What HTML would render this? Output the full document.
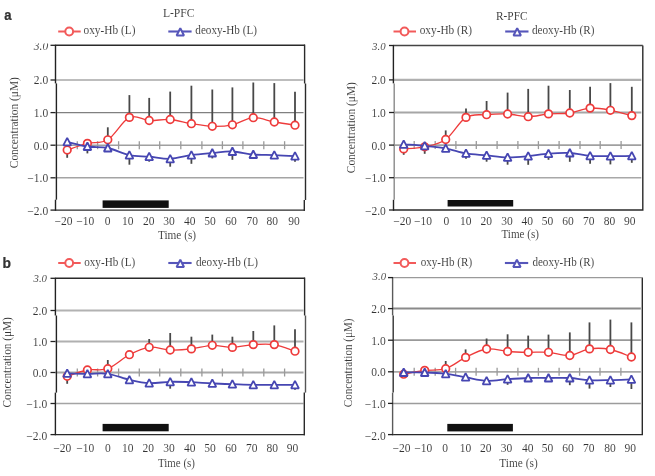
<!DOCTYPE html><html><head><meta charset="utf-8"><style>html,body{margin:0;padding:0;background:#fff;width:655px;height:476px;overflow:hidden}svg{display:block;filter:blur(0.5px)}text{font-family:"Liberation Serif",serif;fill:#333;stroke:#fff;stroke-width:0.08px}.s{font-family:"Liberation Sans",sans-serif;font-weight:bold;stroke:#1a1a1a;stroke-width:0.2px}</style></head><body>
<svg width="655" height="476" viewBox="0 0 655 476">
<defs><clipPath id="c3" clipPathUnits="userSpaceOnUse"><rect x="0" y="43.6" width="100" height="20"/></clipPath></defs>
<line x1="55.5" y1="80.0" x2="303.5" y2="80.0" stroke="#bdbdbd" stroke-width="2.2"/>
<line x1="55.5" y1="112.6" x2="303.5" y2="112.6" stroke="#808080" stroke-width="1.4"/>
<line x1="55.5" y1="145.2" x2="303.5" y2="145.2" stroke="#a0a0a0" stroke-width="1.6"/>
<line x1="55.5" y1="177.8" x2="303.5" y2="177.8" stroke="#a4a4a4" stroke-width="1.5"/>
<line x1="77.3" y1="141.2" x2="77.3" y2="149.2" stroke="#9a9a9a" stroke-width="1.3"/>
<line x1="97.6" y1="141.2" x2="97.6" y2="149.2" stroke="#9a9a9a" stroke-width="1.3"/>
<line x1="118.6" y1="141.2" x2="118.6" y2="149.2" stroke="#9a9a9a" stroke-width="1.3"/>
<line x1="139.3" y1="141.2" x2="139.3" y2="149.2" stroke="#9a9a9a" stroke-width="1.3"/>
<line x1="159.7" y1="141.2" x2="159.7" y2="149.2" stroke="#9a9a9a" stroke-width="1.3"/>
<line x1="180.8" y1="141.2" x2="180.8" y2="149.2" stroke="#9a9a9a" stroke-width="1.3"/>
<line x1="201.9" y1="141.2" x2="201.9" y2="149.2" stroke="#9a9a9a" stroke-width="1.3"/>
<line x1="222.4" y1="141.2" x2="222.4" y2="149.2" stroke="#9a9a9a" stroke-width="1.3"/>
<line x1="242.9" y1="141.2" x2="242.9" y2="149.2" stroke="#9a9a9a" stroke-width="1.3"/>
<line x1="263.8" y1="141.2" x2="263.8" y2="149.2" stroke="#9a9a9a" stroke-width="1.3"/>
<line x1="284.6" y1="141.2" x2="284.6" y2="149.2" stroke="#9a9a9a" stroke-width="1.3"/>
<path d="M55.5 210.1H305" fill="none" stroke="#2a2a2a" stroke-width="1.4"/>
<line x1="304.6" y1="44.6" x2="304.6" y2="83.5" stroke="#2a2a2a" stroke-width="1.4"/>
<line x1="305.5" y1="83.5" x2="305.5" y2="200.0" stroke="#2a2a2a" stroke-width="1.4"/>
<line x1="304.3" y1="200.0" x2="304.3" y2="210.8" stroke="#2a2a2a" stroke-width="1.4"/>
<path d="M54.9 45.3H305" fill="none" stroke="#2a2a2a" stroke-width="1.4"/>
<line x1="55.5" y1="45.3" x2="55.5" y2="83.4" stroke="#222" stroke-width="1.4"/>
<line x1="56.4" y1="83.4" x2="56.4" y2="199.7" stroke="#222" stroke-width="1.4"/>
<line x1="55.5" y1="199.7" x2="55.5" y2="210.8" stroke="#222" stroke-width="1.4"/>
<line x1="50.5" y1="45.3" x2="55.5" y2="45.3" stroke="#222" stroke-width="1.3"/>
<line x1="50.5" y1="80.0" x2="55.5" y2="80.0" stroke="#222" stroke-width="1.3"/>
<line x1="50.5" y1="112.6" x2="55.5" y2="112.6" stroke="#222" stroke-width="1.3"/>
<line x1="50.5" y1="145.2" x2="55.5" y2="145.2" stroke="#222" stroke-width="1.3"/>
<line x1="50.5" y1="177.8" x2="55.5" y2="177.8" stroke="#222" stroke-width="1.3"/>
<line x1="50.5" y1="210.1" x2="55.5" y2="210.1" stroke="#222" stroke-width="1.3"/>
<rect x="102.6" y="200.4" width="66.1" height="7.5" fill="#111"/>
<line x1="67.2" y1="150.0" x2="67.2" y2="157.8" stroke="#484848" stroke-width="1.8"/>
<line x1="87.4" y1="146.5" x2="87.4" y2="153.4" stroke="#484848" stroke-width="1.8"/>
<line x1="107.8" y1="127.3" x2="107.8" y2="139.8" stroke="#484848" stroke-width="1.8"/>
<line x1="129.4" y1="95.1" x2="129.4" y2="117.4" stroke="#484848" stroke-width="1.8"/>
<line x1="129.4" y1="155.2" x2="129.4" y2="164.7" stroke="#484848" stroke-width="1.8"/>
<line x1="149.2" y1="97.9" x2="149.2" y2="120.5" stroke="#484848" stroke-width="1.8"/>
<line x1="149.2" y1="156.7" x2="149.2" y2="161.7" stroke="#484848" stroke-width="1.8"/>
<line x1="170.2" y1="91.6" x2="170.2" y2="119.5" stroke="#484848" stroke-width="1.8"/>
<line x1="170.2" y1="158.8" x2="170.2" y2="166.7" stroke="#484848" stroke-width="1.8"/>
<line x1="191.4" y1="85.7" x2="191.4" y2="123.7" stroke="#484848" stroke-width="1.8"/>
<line x1="191.4" y1="155.1" x2="191.4" y2="163.8" stroke="#484848" stroke-width="1.8"/>
<line x1="212.3" y1="89.5" x2="212.3" y2="126.3" stroke="#484848" stroke-width="1.8"/>
<line x1="212.3" y1="153" x2="212.3" y2="158.4" stroke="#484848" stroke-width="1.8"/>
<line x1="232.4" y1="87.4" x2="232.4" y2="124.8" stroke="#484848" stroke-width="1.8"/>
<line x1="232.4" y1="151.5" x2="232.4" y2="159.8" stroke="#484848" stroke-width="1.8"/>
<line x1="253.3" y1="82.5" x2="253.3" y2="117.7" stroke="#484848" stroke-width="1.8"/>
<line x1="253.3" y1="154.5" x2="253.3" y2="157.8" stroke="#484848" stroke-width="1.8"/>
<line x1="274.3" y1="83.1" x2="274.3" y2="122" stroke="#484848" stroke-width="1.8"/>
<line x1="295.0" y1="91.7" x2="295.0" y2="125.2" stroke="#484848" stroke-width="1.8"/>
<line x1="295.0" y1="156.2" x2="295.0" y2="161.8" stroke="#484848" stroke-width="1.8"/>
<path d="M67.2,150.0C70.6,148.9 80.6,145.1 87.4,143.4C94.2,141.7 100.8,144.1 107.8,139.8C114.8,135.5 122.5,120.6 129.4,117.4C136.3,114.2 142.4,120.2 149.2,120.5C156.0,120.8 163.2,119.0 170.2,119.5C177.2,120.0 184.4,122.6 191.4,123.7C198.4,124.8 205.5,126.1 212.3,126.3C219.1,126.5 225.6,126.2 232.4,124.8C239.2,123.4 246.3,118.2 253.3,117.7C260.3,117.2 267.4,120.8 274.3,122C281.2,123.2 291.6,124.7 295.0,125.2" fill="none" stroke="#ee3b3b" stroke-width="1.3"/>
<circle cx="67.2" cy="150.0" r="3.8" fill="#fff" stroke="#ee3b3b" stroke-width="1.7"/>
<circle cx="87.4" cy="143.4" r="3.8" fill="#fff" stroke="#ee3b3b" stroke-width="1.7"/>
<circle cx="107.8" cy="139.8" r="3.8" fill="#fff" stroke="#ee3b3b" stroke-width="1.7"/>
<circle cx="129.4" cy="117.4" r="3.8" fill="#fff" stroke="#ee3b3b" stroke-width="1.7"/>
<circle cx="149.2" cy="120.5" r="3.8" fill="#fff" stroke="#ee3b3b" stroke-width="1.7"/>
<circle cx="170.2" cy="119.5" r="3.8" fill="#fff" stroke="#ee3b3b" stroke-width="1.7"/>
<circle cx="191.4" cy="123.7" r="3.8" fill="#fff" stroke="#ee3b3b" stroke-width="1.7"/>
<circle cx="212.3" cy="126.3" r="3.8" fill="#fff" stroke="#ee3b3b" stroke-width="1.7"/>
<circle cx="232.4" cy="124.8" r="3.8" fill="#fff" stroke="#ee3b3b" stroke-width="1.7"/>
<circle cx="253.3" cy="117.7" r="3.8" fill="#fff" stroke="#ee3b3b" stroke-width="1.7"/>
<circle cx="274.3" cy="122" r="3.8" fill="#fff" stroke="#ee3b3b" stroke-width="1.7"/>
<circle cx="295.0" cy="125.2" r="3.8" fill="#fff" stroke="#ee3b3b" stroke-width="1.7"/>
<path d="M67.2,141.8C70.6,142.6 80.6,145.5 87.4,146.5C94.2,147.5 100.8,146.6 107.8,148.0C114.8,149.4 122.5,153.8 129.4,155.2C136.3,156.6 142.4,156.1 149.2,156.7C156.0,157.3 163.2,159.1 170.2,158.8C177.2,158.5 184.4,156.1 191.4,155.1C198.4,154.1 205.5,153.6 212.3,153C219.1,152.4 225.6,151.2 232.4,151.5C239.2,151.8 246.3,153.9 253.3,154.5C260.3,155.1 267.4,154.8 274.3,155.1C281.2,155.4 291.6,156.0 295.0,156.2" fill="none" stroke="#4646b2" stroke-width="1.8"/>
<path d="M67.2 137.8L71.1 145.3H63.3Z" fill="#fff" stroke="#4646b2" stroke-width="1.8" stroke-linejoin="bevel"/>
<path d="M87.4 142.5L91.3 150.0H83.5Z" fill="#fff" stroke="#4646b2" stroke-width="1.8" stroke-linejoin="bevel"/>
<path d="M107.8 144.0L111.7 151.5H103.9Z" fill="#fff" stroke="#4646b2" stroke-width="1.8" stroke-linejoin="bevel"/>
<path d="M129.4 151.2L133.3 158.7H125.5Z" fill="#fff" stroke="#4646b2" stroke-width="1.8" stroke-linejoin="bevel"/>
<path d="M149.2 152.7L153.1 160.2H145.3Z" fill="#fff" stroke="#4646b2" stroke-width="1.8" stroke-linejoin="bevel"/>
<path d="M170.2 154.8L174.1 162.3H166.3Z" fill="#fff" stroke="#4646b2" stroke-width="1.8" stroke-linejoin="bevel"/>
<path d="M191.4 151.1L195.3 158.6H187.5Z" fill="#fff" stroke="#4646b2" stroke-width="1.8" stroke-linejoin="bevel"/>
<path d="M212.3 149.0L216.2 156.5H208.4Z" fill="#fff" stroke="#4646b2" stroke-width="1.8" stroke-linejoin="bevel"/>
<path d="M232.4 147.5L236.3 155.0H228.5Z" fill="#fff" stroke="#4646b2" stroke-width="1.8" stroke-linejoin="bevel"/>
<path d="M253.3 150.5L257.2 158.0H249.4Z" fill="#fff" stroke="#4646b2" stroke-width="1.8" stroke-linejoin="bevel"/>
<path d="M274.3 151.1L278.2 158.6H270.4Z" fill="#fff" stroke="#4646b2" stroke-width="1.8" stroke-linejoin="bevel"/>
<path d="M295.0 152.2L298.9 159.7H291.1Z" fill="#fff" stroke="#4646b2" stroke-width="1.8" stroke-linejoin="bevel"/>
<line x1="58.2" y1="31.5" x2="80.7" y2="31.5" stroke="#f25a5a" stroke-width="2"/>
<circle cx="69.2" cy="31.5" r="3.9" fill="#fff" stroke="#f25a5a" stroke-width="2"/>
<line x1="168.3" y1="31.5" x2="191.60000000000002" y2="31.5" stroke="#5656ba" stroke-width="2.1"/>
<path d="M180.3 28.3L184.0 35.5H176.6Z" fill="#fff" stroke="#5656ba" stroke-width="2" stroke-linejoin="bevel"/>
<line x1="394" y1="79.9" x2="641.3" y2="79.9" stroke="#b0b0b0" stroke-width="2.2"/>
<line x1="394" y1="112.5" x2="641.3" y2="112.5" stroke="#a6a6a6" stroke-width="2.0"/>
<line x1="394" y1="145.1" x2="641.3" y2="145.1" stroke="#a0a0a0" stroke-width="1.6"/>
<line x1="394" y1="177.7" x2="641.3" y2="177.7" stroke="#a8a8a8" stroke-width="1.5"/>
<line x1="414.2" y1="141.1" x2="414.2" y2="149.1" stroke="#9a9a9a" stroke-width="1.3"/>
<line x1="435.2" y1="141.1" x2="435.2" y2="149.1" stroke="#9a9a9a" stroke-width="1.3"/>
<line x1="455.9" y1="141.1" x2="455.9" y2="149.1" stroke="#9a9a9a" stroke-width="1.3"/>
<line x1="476.3" y1="141.1" x2="476.3" y2="149.1" stroke="#9a9a9a" stroke-width="1.3"/>
<line x1="497.1" y1="141.1" x2="497.1" y2="149.1" stroke="#9a9a9a" stroke-width="1.3"/>
<line x1="517.9" y1="141.1" x2="517.9" y2="149.1" stroke="#9a9a9a" stroke-width="1.3"/>
<line x1="538.4" y1="141.1" x2="538.4" y2="149.1" stroke="#9a9a9a" stroke-width="1.3"/>
<line x1="559.1" y1="141.1" x2="559.1" y2="149.1" stroke="#9a9a9a" stroke-width="1.3"/>
<line x1="580.0" y1="141.1" x2="580.0" y2="149.1" stroke="#9a9a9a" stroke-width="1.3"/>
<line x1="600.2" y1="141.1" x2="600.2" y2="149.1" stroke="#9a9a9a" stroke-width="1.3"/>
<line x1="621.1" y1="141.1" x2="621.1" y2="149.1" stroke="#9a9a9a" stroke-width="1.3"/>
<path d="M394 210H642.8V45.5" fill="none" stroke="#2a2a2a" stroke-width="1.4"/>
<path d="M393.4 45.5H642.8" fill="none" stroke="#444" stroke-width="1.4"/>
<line x1="393.4" y1="45.8" x2="393.4" y2="83.4" stroke="#222" stroke-width="1.4"/>
<line x1="394.2" y1="83.4" x2="394.2" y2="199.8" stroke="#8a8a8a" stroke-width="1.4"/>
<line x1="393.5" y1="199.8" x2="393.5" y2="210.8" stroke="#222" stroke-width="1.4"/>
<line x1="389" y1="45.5" x2="394" y2="45.5" stroke="#222" stroke-width="1.3"/>
<line x1="389" y1="79.9" x2="394" y2="79.9" stroke="#222" stroke-width="1.3"/>
<line x1="389" y1="112.5" x2="394" y2="112.5" stroke="#222" stroke-width="1.3"/>
<line x1="389" y1="145.1" x2="394" y2="145.1" stroke="#222" stroke-width="1.3"/>
<line x1="389" y1="177.7" x2="394" y2="177.7" stroke="#222" stroke-width="1.3"/>
<line x1="389" y1="210.0" x2="394" y2="210.0" stroke="#222" stroke-width="1.3"/>
<rect x="447.6" y="200" width="65.6" height="6.5" fill="#111"/>
<line x1="403.7" y1="144.3" x2="403.7" y2="154.8" stroke="#484848" stroke-width="1.8"/>
<line x1="424.7" y1="145.9" x2="424.7" y2="153.8" stroke="#484848" stroke-width="1.8"/>
<line x1="445.7" y1="130.4" x2="445.7" y2="139.5" stroke="#484848" stroke-width="1.8"/>
<line x1="466" y1="108.4" x2="466" y2="117.4" stroke="#484848" stroke-width="1.8"/>
<line x1="466" y1="153.4" x2="466" y2="158.8" stroke="#484848" stroke-width="1.8"/>
<line x1="486.6" y1="101" x2="486.6" y2="114.7" stroke="#484848" stroke-width="1.8"/>
<line x1="486.6" y1="155.4" x2="486.6" y2="161.7" stroke="#484848" stroke-width="1.8"/>
<line x1="507.6" y1="92.6" x2="507.6" y2="114" stroke="#484848" stroke-width="1.8"/>
<line x1="507.6" y1="157.4" x2="507.6" y2="164.7" stroke="#484848" stroke-width="1.8"/>
<line x1="528.2" y1="88.9" x2="528.2" y2="116.7" stroke="#484848" stroke-width="1.8"/>
<line x1="528.2" y1="156.2" x2="528.2" y2="164.8" stroke="#484848" stroke-width="1.8"/>
<line x1="548.5" y1="85.7" x2="548.5" y2="113.9" stroke="#484848" stroke-width="1.8"/>
<line x1="548.5" y1="153.6" x2="548.5" y2="159.8" stroke="#484848" stroke-width="1.8"/>
<line x1="569.8" y1="90" x2="569.8" y2="113" stroke="#484848" stroke-width="1.8"/>
<line x1="569.8" y1="153" x2="569.8" y2="161.8" stroke="#484848" stroke-width="1.8"/>
<line x1="590.1" y1="86.8" x2="590.1" y2="108.1" stroke="#484848" stroke-width="1.8"/>
<line x1="590.1" y1="155.8" x2="590.1" y2="163.8" stroke="#484848" stroke-width="1.8"/>
<line x1="610.4" y1="83.1" x2="610.4" y2="110.3" stroke="#484848" stroke-width="1.8"/>
<line x1="610.4" y1="156.2" x2="610.4" y2="164.4" stroke="#484848" stroke-width="1.8"/>
<line x1="631.8" y1="86.8" x2="631.8" y2="115.6" stroke="#484848" stroke-width="1.8"/>
<line x1="631.8" y1="155.8" x2="631.8" y2="162.8" stroke="#484848" stroke-width="1.8"/>
<path d="M403.7,148.9C407.2,148.6 417.7,148.4 424.7,146.8C431.7,145.2 438.8,144.4 445.7,139.5C452.6,134.6 459.2,121.5 466,117.4C472.8,113.3 479.7,115.3 486.6,114.7C493.5,114.1 500.7,113.7 507.6,114C514.5,114.3 521.4,116.7 528.2,116.7C535.0,116.7 541.6,114.5 548.5,113.9C555.4,113.3 562.9,114.0 569.8,113C576.7,112.0 583.3,108.5 590.1,108.1C596.9,107.6 603.5,109.0 610.4,110.3C617.3,111.5 628.2,114.7 631.8,115.6" fill="none" stroke="#ee3b3b" stroke-width="1.3"/>
<circle cx="403.7" cy="148.9" r="3.8" fill="#fff" stroke="#ee3b3b" stroke-width="1.7"/>
<circle cx="424.7" cy="146.8" r="3.8" fill="#fff" stroke="#ee3b3b" stroke-width="1.7"/>
<circle cx="445.7" cy="139.5" r="3.8" fill="#fff" stroke="#ee3b3b" stroke-width="1.7"/>
<circle cx="466" cy="117.4" r="3.8" fill="#fff" stroke="#ee3b3b" stroke-width="1.7"/>
<circle cx="486.6" cy="114.7" r="3.8" fill="#fff" stroke="#ee3b3b" stroke-width="1.7"/>
<circle cx="507.6" cy="114" r="3.8" fill="#fff" stroke="#ee3b3b" stroke-width="1.7"/>
<circle cx="528.2" cy="116.7" r="3.8" fill="#fff" stroke="#ee3b3b" stroke-width="1.7"/>
<circle cx="548.5" cy="113.9" r="3.8" fill="#fff" stroke="#ee3b3b" stroke-width="1.7"/>
<circle cx="569.8" cy="113" r="3.8" fill="#fff" stroke="#ee3b3b" stroke-width="1.7"/>
<circle cx="590.1" cy="108.1" r="3.8" fill="#fff" stroke="#ee3b3b" stroke-width="1.7"/>
<circle cx="610.4" cy="110.3" r="3.8" fill="#fff" stroke="#ee3b3b" stroke-width="1.7"/>
<circle cx="631.8" cy="115.6" r="3.8" fill="#fff" stroke="#ee3b3b" stroke-width="1.7"/>
<path d="M403.7,144.3C407.2,144.6 417.7,145.2 424.7,145.9C431.7,146.6 438.8,147.1 445.7,148.3C452.6,149.6 459.2,152.2 466,153.4C472.8,154.6 479.7,154.7 486.6,155.4C493.5,156.1 500.7,157.3 507.6,157.4C514.5,157.5 521.4,156.8 528.2,156.2C535.0,155.6 541.6,154.1 548.5,153.6C555.4,153.1 562.9,152.6 569.8,153C576.7,153.4 583.3,155.3 590.1,155.8C596.9,156.3 603.5,156.2 610.4,156.2C617.3,156.2 628.2,155.9 631.8,155.8" fill="none" stroke="#4646b2" stroke-width="1.8"/>
<path d="M403.7 140.3L407.6 147.8H399.8Z" fill="#fff" stroke="#4646b2" stroke-width="1.8" stroke-linejoin="bevel"/>
<path d="M424.7 141.9L428.6 149.4H420.8Z" fill="#fff" stroke="#4646b2" stroke-width="1.8" stroke-linejoin="bevel"/>
<path d="M445.7 144.3L449.6 151.8H441.8Z" fill="#fff" stroke="#4646b2" stroke-width="1.8" stroke-linejoin="bevel"/>
<path d="M466 149.4L469.9 156.9H462.1Z" fill="#fff" stroke="#4646b2" stroke-width="1.8" stroke-linejoin="bevel"/>
<path d="M486.6 151.4L490.5 158.9H482.7Z" fill="#fff" stroke="#4646b2" stroke-width="1.8" stroke-linejoin="bevel"/>
<path d="M507.6 153.4L511.5 160.9H503.7Z" fill="#fff" stroke="#4646b2" stroke-width="1.8" stroke-linejoin="bevel"/>
<path d="M528.2 152.2L532.1 159.7H524.3Z" fill="#fff" stroke="#4646b2" stroke-width="1.8" stroke-linejoin="bevel"/>
<path d="M548.5 149.6L552.4 157.1H544.6Z" fill="#fff" stroke="#4646b2" stroke-width="1.8" stroke-linejoin="bevel"/>
<path d="M569.8 149.0L573.7 156.5H565.9Z" fill="#fff" stroke="#4646b2" stroke-width="1.8" stroke-linejoin="bevel"/>
<path d="M590.1 151.8L594.0 159.3H586.2Z" fill="#fff" stroke="#4646b2" stroke-width="1.8" stroke-linejoin="bevel"/>
<path d="M610.4 152.2L614.3 159.7H606.5Z" fill="#fff" stroke="#4646b2" stroke-width="1.8" stroke-linejoin="bevel"/>
<path d="M631.8 151.8L635.7 159.3H627.9Z" fill="#fff" stroke="#4646b2" stroke-width="1.8" stroke-linejoin="bevel"/>
<line x1="393.5" y1="31.5" x2="416" y2="31.5" stroke="#f25a5a" stroke-width="2"/>
<circle cx="404.5" cy="31.5" r="3.9" fill="#fff" stroke="#f25a5a" stroke-width="2"/>
<line x1="505.2" y1="31.5" x2="528.5" y2="31.5" stroke="#5656ba" stroke-width="2.1"/>
<path d="M517.2 28.3L520.9 35.5H513.5Z" fill="#fff" stroke="#5656ba" stroke-width="2" stroke-linejoin="bevel"/>
<line x1="55.5" y1="310.5" x2="303.5" y2="310.5" stroke="#b2b2b2" stroke-width="2.0"/>
<line x1="55.5" y1="341.5" x2="303.5" y2="341.5" stroke="#b0b0b0" stroke-width="2.0"/>
<line x1="55.5" y1="372.5" x2="303.5" y2="372.5" stroke="#a8a8a8" stroke-width="2.0"/>
<line x1="55.5" y1="403.5" x2="303.5" y2="403.5" stroke="#a4a4a4" stroke-width="1.5"/>
<line x1="77.3" y1="368.5" x2="77.3" y2="376.5" stroke="#9a9a9a" stroke-width="1.3"/>
<line x1="97.6" y1="368.5" x2="97.6" y2="376.5" stroke="#9a9a9a" stroke-width="1.3"/>
<line x1="118.6" y1="368.5" x2="118.6" y2="376.5" stroke="#9a9a9a" stroke-width="1.3"/>
<line x1="139.3" y1="368.5" x2="139.3" y2="376.5" stroke="#9a9a9a" stroke-width="1.3"/>
<line x1="159.7" y1="368.5" x2="159.7" y2="376.5" stroke="#9a9a9a" stroke-width="1.3"/>
<line x1="180.8" y1="368.5" x2="180.8" y2="376.5" stroke="#9a9a9a" stroke-width="1.3"/>
<line x1="201.9" y1="368.5" x2="201.9" y2="376.5" stroke="#9a9a9a" stroke-width="1.3"/>
<line x1="222.4" y1="368.5" x2="222.4" y2="376.5" stroke="#9a9a9a" stroke-width="1.3"/>
<line x1="242.9" y1="368.5" x2="242.9" y2="376.5" stroke="#9a9a9a" stroke-width="1.3"/>
<line x1="263.8" y1="368.5" x2="263.8" y2="376.5" stroke="#9a9a9a" stroke-width="1.3"/>
<line x1="284.6" y1="368.5" x2="284.6" y2="376.5" stroke="#9a9a9a" stroke-width="1.3"/>
<path d="M55.5 434.6H305" fill="none" stroke="#2a2a2a" stroke-width="1.4"/>
<line x1="304.6" y1="277.6" x2="304.6" y2="315.5" stroke="#2a2a2a" stroke-width="1.4"/>
<line x1="305.5" y1="315.5" x2="305.5" y2="392.6" stroke="#555" stroke-width="1.4"/>
<line x1="304.3" y1="392.6" x2="304.3" y2="435.3" stroke="#2a2a2a" stroke-width="1.4"/>
<path d="M54.9 278.3H305" fill="none" stroke="#2a2a2a" stroke-width="1.4"/>
<line x1="55.4" y1="278.5" x2="55.4" y2="315.5" stroke="#222" stroke-width="1.4"/>
<line x1="56.4" y1="315.5" x2="56.4" y2="392.6" stroke="#222" stroke-width="1.4"/>
<line x1="55.4" y1="392.6" x2="55.4" y2="435.3" stroke="#222" stroke-width="1.4"/>
<line x1="50.5" y1="278.3" x2="55.5" y2="278.3" stroke="#222" stroke-width="1.3"/>
<line x1="50.5" y1="310.5" x2="55.5" y2="310.5" stroke="#222" stroke-width="1.3"/>
<line x1="50.5" y1="341.5" x2="55.5" y2="341.5" stroke="#222" stroke-width="1.3"/>
<line x1="50.5" y1="372.5" x2="55.5" y2="372.5" stroke="#222" stroke-width="1.3"/>
<line x1="50.5" y1="403.5" x2="55.5" y2="403.5" stroke="#222" stroke-width="1.3"/>
<line x1="50.5" y1="434.6" x2="55.5" y2="434.6" stroke="#222" stroke-width="1.3"/>
<rect x="102.6" y="423.9" width="66.1" height="7.4" fill="#111"/>
<line x1="67.2" y1="373.3" x2="67.2" y2="383.8" stroke="#484848" stroke-width="1.8"/>
<line x1="107.8" y1="360" x2="107.8" y2="368.7" stroke="#484848" stroke-width="1.8"/>
<line x1="149.2" y1="339" x2="149.2" y2="347.3" stroke="#484848" stroke-width="1.8"/>
<line x1="170.2" y1="333" x2="170.2" y2="350" stroke="#484848" stroke-width="1.8"/>
<line x1="170.2" y1="381.8" x2="170.2" y2="388.7" stroke="#484848" stroke-width="1.8"/>
<line x1="191.4" y1="336.7" x2="191.4" y2="348.9" stroke="#484848" stroke-width="1.8"/>
<line x1="191.4" y1="382.2" x2="191.4" y2="386" stroke="#484848" stroke-width="1.8"/>
<line x1="212.3" y1="334.6" x2="212.3" y2="345.3" stroke="#484848" stroke-width="1.8"/>
<line x1="232.4" y1="336.7" x2="232.4" y2="347.4" stroke="#484848" stroke-width="1.8"/>
<line x1="232.4" y1="384.2" x2="232.4" y2="387" stroke="#484848" stroke-width="1.8"/>
<line x1="253.3" y1="331" x2="253.3" y2="344.6" stroke="#484848" stroke-width="1.8"/>
<line x1="274.3" y1="325.4" x2="274.3" y2="344.6" stroke="#484848" stroke-width="1.8"/>
<line x1="295.0" y1="329.2" x2="295.0" y2="351.2" stroke="#484848" stroke-width="1.8"/>
<line x1="295.0" y1="384.8" x2="295.0" y2="389.8" stroke="#484848" stroke-width="1.8"/>
<path d="M67.2,376.3C70.6,375.2 80.6,371.3 87.4,370C94.2,368.7 100.8,371.2 107.8,368.7C114.8,366.1 122.5,358.3 129.4,354.7C136.3,351.1 142.4,348.1 149.2,347.3C156.0,346.5 163.2,349.7 170.2,350C177.2,350.3 184.4,349.7 191.4,348.9C198.4,348.1 205.5,345.6 212.3,345.3C219.1,345.1 225.6,347.5 232.4,347.4C239.2,347.3 246.3,345.1 253.3,344.6C260.3,344.1 267.4,343.5 274.3,344.6C281.2,345.7 291.6,350.1 295.0,351.2" fill="none" stroke="#ee3b3b" stroke-width="1.3"/>
<circle cx="67.2" cy="376.3" r="3.8" fill="#fff" stroke="#ee3b3b" stroke-width="1.7"/>
<circle cx="87.4" cy="370" r="3.8" fill="#fff" stroke="#ee3b3b" stroke-width="1.7"/>
<circle cx="107.8" cy="368.7" r="3.8" fill="#fff" stroke="#ee3b3b" stroke-width="1.7"/>
<circle cx="129.4" cy="354.7" r="3.8" fill="#fff" stroke="#ee3b3b" stroke-width="1.7"/>
<circle cx="149.2" cy="347.3" r="3.8" fill="#fff" stroke="#ee3b3b" stroke-width="1.7"/>
<circle cx="170.2" cy="350" r="3.8" fill="#fff" stroke="#ee3b3b" stroke-width="1.7"/>
<circle cx="191.4" cy="348.9" r="3.8" fill="#fff" stroke="#ee3b3b" stroke-width="1.7"/>
<circle cx="212.3" cy="345.3" r="3.8" fill="#fff" stroke="#ee3b3b" stroke-width="1.7"/>
<circle cx="232.4" cy="347.4" r="3.8" fill="#fff" stroke="#ee3b3b" stroke-width="1.7"/>
<circle cx="253.3" cy="344.6" r="3.8" fill="#fff" stroke="#ee3b3b" stroke-width="1.7"/>
<circle cx="274.3" cy="344.6" r="3.8" fill="#fff" stroke="#ee3b3b" stroke-width="1.7"/>
<circle cx="295.0" cy="351.2" r="3.8" fill="#fff" stroke="#ee3b3b" stroke-width="1.7"/>
<path d="M67.2,373.3C70.6,373.4 80.6,373.7 87.4,373.8C94.2,373.9 100.8,372.8 107.8,373.8C114.8,374.8 122.5,378.2 129.4,379.8C136.3,381.4 142.4,382.9 149.2,383.2C156.0,383.5 163.2,382.0 170.2,381.8C177.2,381.6 184.4,381.9 191.4,382.2C198.4,382.5 205.5,383.1 212.3,383.4C219.1,383.7 225.6,384.0 232.4,384.2C239.2,384.4 246.3,384.7 253.3,384.8C260.3,384.9 267.4,384.8 274.3,384.8C281.2,384.8 291.6,384.8 295.0,384.8" fill="none" stroke="#4646b2" stroke-width="1.8"/>
<path d="M67.2 369.3L71.1 376.8H63.3Z" fill="#fff" stroke="#4646b2" stroke-width="1.8" stroke-linejoin="bevel"/>
<path d="M87.4 369.8L91.3 377.3H83.5Z" fill="#fff" stroke="#4646b2" stroke-width="1.8" stroke-linejoin="bevel"/>
<path d="M107.8 369.8L111.7 377.3H103.9Z" fill="#fff" stroke="#4646b2" stroke-width="1.8" stroke-linejoin="bevel"/>
<path d="M129.4 375.8L133.3 383.3H125.5Z" fill="#fff" stroke="#4646b2" stroke-width="1.8" stroke-linejoin="bevel"/>
<path d="M149.2 379.2L153.1 386.7H145.3Z" fill="#fff" stroke="#4646b2" stroke-width="1.8" stroke-linejoin="bevel"/>
<path d="M170.2 377.8L174.1 385.3H166.3Z" fill="#fff" stroke="#4646b2" stroke-width="1.8" stroke-linejoin="bevel"/>
<path d="M191.4 378.2L195.3 385.7H187.5Z" fill="#fff" stroke="#4646b2" stroke-width="1.8" stroke-linejoin="bevel"/>
<path d="M212.3 379.4L216.2 386.9H208.4Z" fill="#fff" stroke="#4646b2" stroke-width="1.8" stroke-linejoin="bevel"/>
<path d="M232.4 380.2L236.3 387.7H228.5Z" fill="#fff" stroke="#4646b2" stroke-width="1.8" stroke-linejoin="bevel"/>
<path d="M253.3 380.8L257.2 388.3H249.4Z" fill="#fff" stroke="#4646b2" stroke-width="1.8" stroke-linejoin="bevel"/>
<path d="M274.3 380.8L278.2 388.3H270.4Z" fill="#fff" stroke="#4646b2" stroke-width="1.8" stroke-linejoin="bevel"/>
<path d="M295.0 380.8L298.9 388.3H291.1Z" fill="#fff" stroke="#4646b2" stroke-width="1.8" stroke-linejoin="bevel"/>
<line x1="58.2" y1="263" x2="80.7" y2="263" stroke="#f25a5a" stroke-width="2"/>
<circle cx="69.2" cy="263" r="3.9" fill="#fff" stroke="#f25a5a" stroke-width="2"/>
<line x1="168.3" y1="263" x2="191.60000000000002" y2="263" stroke="#5656ba" stroke-width="2.1"/>
<path d="M180.3 259.8L184.0 267.0H176.6Z" fill="#fff" stroke="#5656ba" stroke-width="2" stroke-linejoin="bevel"/>
<line x1="393" y1="308.6" x2="640.8" y2="308.6" stroke="#8a8a8a" stroke-width="2.0"/>
<line x1="393" y1="340.2" x2="640.8" y2="340.2" stroke="#999999" stroke-width="1.8"/>
<line x1="393" y1="371.8" x2="640.8" y2="371.8" stroke="#a8a8a8" stroke-width="1.8"/>
<line x1="393" y1="403.4" x2="640.8" y2="403.4" stroke="#9c9c9c" stroke-width="1.5"/>
<line x1="414.2" y1="367.8" x2="414.2" y2="375.8" stroke="#9a9a9a" stroke-width="1.3"/>
<line x1="435.2" y1="367.8" x2="435.2" y2="375.8" stroke="#9a9a9a" stroke-width="1.3"/>
<line x1="455.6" y1="367.8" x2="455.6" y2="375.8" stroke="#9a9a9a" stroke-width="1.3"/>
<line x1="476.1" y1="367.8" x2="476.1" y2="375.8" stroke="#9a9a9a" stroke-width="1.3"/>
<line x1="497.1" y1="367.8" x2="497.1" y2="375.8" stroke="#9a9a9a" stroke-width="1.3"/>
<line x1="517.9" y1="367.8" x2="517.9" y2="375.8" stroke="#9a9a9a" stroke-width="1.3"/>
<line x1="538.4" y1="367.8" x2="538.4" y2="375.8" stroke="#9a9a9a" stroke-width="1.3"/>
<line x1="559.1" y1="367.8" x2="559.1" y2="375.8" stroke="#9a9a9a" stroke-width="1.3"/>
<line x1="579.6" y1="367.8" x2="579.6" y2="375.8" stroke="#9a9a9a" stroke-width="1.3"/>
<line x1="600.0" y1="367.8" x2="600.0" y2="375.8" stroke="#9a9a9a" stroke-width="1.3"/>
<line x1="620.9" y1="367.8" x2="620.9" y2="375.8" stroke="#9a9a9a" stroke-width="1.3"/>
<path d="M393 434.6H642.3V277.6" fill="none" stroke="#2a2a2a" stroke-width="1.4"/>
<path d="M392.4 277.6H642.3" fill="none" stroke="#9a9a9a" stroke-width="1.2"/>
<line x1="392.6" y1="277.3" x2="392.6" y2="315.4" stroke="#5a5a5a" stroke-width="1.4"/>
<line x1="393.2" y1="315.4" x2="393.2" y2="392.6" stroke="#333" stroke-width="1.4"/>
<line x1="392.6" y1="392.6" x2="392.6" y2="435.3" stroke="#5a5a5a" stroke-width="1.4"/>
<line x1="388" y1="277.6" x2="393" y2="277.6" stroke="#222" stroke-width="1.3"/>
<line x1="388" y1="308.6" x2="393" y2="308.6" stroke="#222" stroke-width="1.3"/>
<line x1="388" y1="340.2" x2="393" y2="340.2" stroke="#222" stroke-width="1.3"/>
<line x1="388" y1="371.8" x2="393" y2="371.8" stroke="#222" stroke-width="1.3"/>
<line x1="388" y1="403.4" x2="393" y2="403.4" stroke="#222" stroke-width="1.3"/>
<line x1="388" y1="434.6" x2="393" y2="434.6" stroke="#222" stroke-width="1.3"/>
<rect x="447.3" y="423.9" width="65.6" height="7.5" fill="#111"/>
<line x1="445.7" y1="361" x2="445.7" y2="368.7" stroke="#484848" stroke-width="1.8"/>
<line x1="465.6" y1="349.4" x2="465.6" y2="357.4" stroke="#484848" stroke-width="1.8"/>
<line x1="486.6" y1="338.5" x2="486.6" y2="349" stroke="#484848" stroke-width="1.8"/>
<line x1="507.6" y1="334.3" x2="507.6" y2="351.5" stroke="#484848" stroke-width="1.8"/>
<line x1="507.6" y1="379.2" x2="507.6" y2="384.8" stroke="#484848" stroke-width="1.8"/>
<line x1="528.2" y1="335.6" x2="528.2" y2="352.3" stroke="#484848" stroke-width="1.8"/>
<line x1="548.5" y1="334.6" x2="548.5" y2="352.3" stroke="#484848" stroke-width="1.8"/>
<line x1="569.8" y1="332.4" x2="569.8" y2="355.5" stroke="#484848" stroke-width="1.8"/>
<line x1="569.8" y1="378" x2="569.8" y2="385.2" stroke="#484848" stroke-width="1.8"/>
<line x1="589.5" y1="322.4" x2="589.5" y2="348.9" stroke="#484848" stroke-width="1.8"/>
<line x1="589.5" y1="380.1" x2="589.5" y2="388.6" stroke="#484848" stroke-width="1.8"/>
<line x1="610.4" y1="319.6" x2="610.4" y2="349.5" stroke="#484848" stroke-width="1.8"/>
<line x1="610.4" y1="380.1" x2="610.4" y2="387" stroke="#484848" stroke-width="1.8"/>
<line x1="631.4" y1="322.4" x2="631.4" y2="357" stroke="#484848" stroke-width="1.8"/>
<line x1="631.4" y1="379.4" x2="631.4" y2="389" stroke="#484848" stroke-width="1.8"/>
<path d="M403.7,374.2C407.2,373.6 417.7,371.3 424.7,370.4C431.7,369.5 438.9,370.9 445.7,368.7C452.5,366.5 458.8,360.7 465.6,357.4C472.4,354.1 479.6,350.0 486.6,349C493.6,348.0 500.7,350.9 507.6,351.5C514.5,352.1 521.4,352.2 528.2,352.3C535.0,352.4 541.6,351.8 548.5,352.3C555.4,352.8 563.0,356.1 569.8,355.5C576.6,354.9 582.7,349.9 589.5,348.9C596.3,347.9 603.4,348.1 610.4,349.5C617.4,350.9 627.9,355.8 631.4,357" fill="none" stroke="#ee3b3b" stroke-width="1.3"/>
<circle cx="403.7" cy="374.2" r="3.8" fill="#fff" stroke="#ee3b3b" stroke-width="1.7"/>
<circle cx="424.7" cy="370.4" r="3.8" fill="#fff" stroke="#ee3b3b" stroke-width="1.7"/>
<circle cx="445.7" cy="368.7" r="3.8" fill="#fff" stroke="#ee3b3b" stroke-width="1.7"/>
<circle cx="465.6" cy="357.4" r="3.8" fill="#fff" stroke="#ee3b3b" stroke-width="1.7"/>
<circle cx="486.6" cy="349" r="3.8" fill="#fff" stroke="#ee3b3b" stroke-width="1.7"/>
<circle cx="507.6" cy="351.5" r="3.8" fill="#fff" stroke="#ee3b3b" stroke-width="1.7"/>
<circle cx="528.2" cy="352.3" r="3.8" fill="#fff" stroke="#ee3b3b" stroke-width="1.7"/>
<circle cx="548.5" cy="352.3" r="3.8" fill="#fff" stroke="#ee3b3b" stroke-width="1.7"/>
<circle cx="569.8" cy="355.5" r="3.8" fill="#fff" stroke="#ee3b3b" stroke-width="1.7"/>
<circle cx="589.5" cy="348.9" r="3.8" fill="#fff" stroke="#ee3b3b" stroke-width="1.7"/>
<circle cx="610.4" cy="349.5" r="3.8" fill="#fff" stroke="#ee3b3b" stroke-width="1.7"/>
<circle cx="631.4" cy="357" r="3.8" fill="#fff" stroke="#ee3b3b" stroke-width="1.7"/>
<path d="M403.7,372.5C407.2,372.5 417.7,372.3 424.7,372.5C431.7,372.7 438.9,373.0 445.7,373.8C452.5,374.6 458.8,376.0 465.6,377.2C472.4,378.4 479.6,380.5 486.6,380.8C493.6,381.1 500.7,379.7 507.6,379.2C514.5,378.7 521.4,378.2 528.2,378C535.0,377.8 541.6,378.0 548.5,378C555.4,378.0 563.0,377.6 569.8,378C576.6,378.4 582.7,379.8 589.5,380.1C596.3,380.5 603.4,380.2 610.4,380.1C617.4,380.0 627.9,379.5 631.4,379.4" fill="none" stroke="#4646b2" stroke-width="1.8"/>
<path d="M403.7 368.5L407.6 376.0H399.8Z" fill="#fff" stroke="#4646b2" stroke-width="1.8" stroke-linejoin="bevel"/>
<path d="M424.7 368.5L428.6 376.0H420.8Z" fill="#fff" stroke="#4646b2" stroke-width="1.8" stroke-linejoin="bevel"/>
<path d="M445.7 369.8L449.6 377.3H441.8Z" fill="#fff" stroke="#4646b2" stroke-width="1.8" stroke-linejoin="bevel"/>
<path d="M465.6 373.2L469.5 380.7H461.7Z" fill="#fff" stroke="#4646b2" stroke-width="1.8" stroke-linejoin="bevel"/>
<path d="M486.6 376.8L490.5 384.3H482.7Z" fill="#fff" stroke="#4646b2" stroke-width="1.8" stroke-linejoin="bevel"/>
<path d="M507.6 375.2L511.5 382.7H503.7Z" fill="#fff" stroke="#4646b2" stroke-width="1.8" stroke-linejoin="bevel"/>
<path d="M528.2 374.0L532.1 381.5H524.3Z" fill="#fff" stroke="#4646b2" stroke-width="1.8" stroke-linejoin="bevel"/>
<path d="M548.5 374.0L552.4 381.5H544.6Z" fill="#fff" stroke="#4646b2" stroke-width="1.8" stroke-linejoin="bevel"/>
<path d="M569.8 374.0L573.7 381.5H565.9Z" fill="#fff" stroke="#4646b2" stroke-width="1.8" stroke-linejoin="bevel"/>
<path d="M589.5 376.1L593.4 383.6H585.6Z" fill="#fff" stroke="#4646b2" stroke-width="1.8" stroke-linejoin="bevel"/>
<path d="M610.4 376.1L614.3 383.6H606.5Z" fill="#fff" stroke="#4646b2" stroke-width="1.8" stroke-linejoin="bevel"/>
<path d="M631.4 375.4L635.3 382.9H627.5Z" fill="#fff" stroke="#4646b2" stroke-width="1.8" stroke-linejoin="bevel"/>
<line x1="393.5" y1="263" x2="416" y2="263" stroke="#f25a5a" stroke-width="2"/>
<circle cx="404.5" cy="263" r="3.9" fill="#fff" stroke="#f25a5a" stroke-width="2"/>
<line x1="504.9" y1="263" x2="528.1999999999999" y2="263" stroke="#5656ba" stroke-width="2.1"/>
<path d="M516.9 259.8L520.6 267.0H513.2Z" fill="#fff" stroke="#5656ba" stroke-width="2" stroke-linejoin="bevel"/>
<text x="4.20" y="19.50" font-size="15" text-anchor="start" textLength="7.30" lengthAdjust="spacingAndGlyphs" fill="#1a1a1a" class="s">a</text>
<text x="2.50" y="268.40" font-size="15" text-anchor="start" textLength="8.50" lengthAdjust="spacingAndGlyphs" fill="#1a1a1a" class="s">b</text>
<text x="178.70" y="17.45" font-size="13" text-anchor="middle" textLength="31.60" lengthAdjust="spacingAndGlyphs" fill="#383838">L-PFC</text>
<text x="511.80" y="20.15" font-size="13" text-anchor="middle" textLength="31.60" lengthAdjust="spacingAndGlyphs" fill="#383838">R-PFC</text>
<text x="109.45" y="34.20" font-size="11.6" text-anchor="middle" textLength="51.90" lengthAdjust="spacingAndGlyphs" fill="#1e1e1e">oxy-Hb (L)</text>
<text x="226.15" y="34.20" font-size="11.6" text-anchor="middle" textLength="61.70" lengthAdjust="spacingAndGlyphs" fill="#1e1e1e">deoxy-Hb (L)</text>
<text x="445.90" y="34.20" font-size="11.6" text-anchor="middle" textLength="52.40" lengthAdjust="spacingAndGlyphs" fill="#1e1e1e">oxy-Hb (R)</text>
<text x="563.15" y="34.20" font-size="11.6" text-anchor="middle" textLength="62.50" lengthAdjust="spacingAndGlyphs" fill="#1e1e1e">deoxy-Hb (R)</text>
<text x="109.75" y="266.20" font-size="11.6" text-anchor="middle" textLength="51.10" lengthAdjust="spacingAndGlyphs" fill="#1e1e1e">oxy-Hb (L)</text>
<text x="226.95" y="266.20" font-size="11.6" text-anchor="middle" textLength="61.90" lengthAdjust="spacingAndGlyphs" fill="#1e1e1e">deoxy-Hb (L)</text>
<text x="446.40" y="266.20" font-size="11.6" text-anchor="middle" textLength="51.40" lengthAdjust="spacingAndGlyphs" fill="#1e1e1e">oxy-Hb (R)</text>
<text x="563.35" y="266.20" font-size="11.6" text-anchor="middle" textLength="61.90" lengthAdjust="spacingAndGlyphs" fill="#1e1e1e">deoxy-Hb (R)</text>
<text x="177.00" y="238.50" font-size="11.6" text-anchor="middle" textLength="38.20" lengthAdjust="spacingAndGlyphs" fill="#1e1e1e">Time (s)</text>
<text x="520.20" y="237.90" font-size="11.6" text-anchor="middle" textLength="37.40" lengthAdjust="spacingAndGlyphs" fill="#1e1e1e">Time (s)</text>
<text x="176.50" y="466.60" font-size="11.6" text-anchor="middle" textLength="37.00" lengthAdjust="spacingAndGlyphs" fill="#1e1e1e">Time (s)</text>
<text x="518.50" y="467.00" font-size="11.6" text-anchor="middle" textLength="38.40" lengthAdjust="spacingAndGlyphs" fill="#1e1e1e">Time (s)</text>
<text transform="translate(18.20,122.70) rotate(-90)" x="0" y="0" font-size="12" text-anchor="middle" textLength="91.00" lengthAdjust="spacingAndGlyphs" fill="#1e1e1e">Concentration (μM)</text>
<text transform="translate(354.70,127.70) rotate(-90)" x="0" y="0" font-size="12" text-anchor="middle" textLength="91.00" lengthAdjust="spacingAndGlyphs" fill="#1e1e1e">Concentration (μM)</text>
<text transform="translate(11.20,362.30) rotate(-90)" x="0" y="0" font-size="12" text-anchor="middle" textLength="90.20" lengthAdjust="spacingAndGlyphs" fill="#1e1e1e">Concentration (μM)</text>
<text transform="translate(351.80,362.90) rotate(-90)" x="0" y="0" font-size="12" text-anchor="middle" textLength="88.60" lengthAdjust="spacingAndGlyphs" fill="#1e1e1e">Concentration (μM)</text>
<text x="48.20" y="49.80" font-size="11.5" text-anchor="end" fill="#1e1e1e" font-style="italic" clip-path="url(#c3)">3.0</text>
<text x="48.20" y="84.40" font-size="11.5" text-anchor="end" fill="#1e1e1e">2.0</text>
<text x="48.20" y="117.00" font-size="11.5" text-anchor="end" fill="#1e1e1e">1.0</text>
<text x="48.20" y="149.60" font-size="11.5" text-anchor="end" fill="#1e1e1e">0.0</text>
<text x="48.20" y="182.20" font-size="11.5" text-anchor="end" fill="#1e1e1e">−1.0</text>
<text x="48.20" y="215.10" font-size="11.5" text-anchor="end" fill="#1e1e1e">−2.0</text>
<text x="385.60" y="50.35" font-size="10.8" text-anchor="end" fill="#1e1e1e" font-style="italic">3.0</text>
<text x="385.80" y="84.30" font-size="11.5" text-anchor="end" fill="#1e1e1e">2.0</text>
<text x="385.80" y="116.90" font-size="11.5" text-anchor="end" fill="#1e1e1e">1.0</text>
<text x="385.80" y="149.50" font-size="11.5" text-anchor="end" fill="#1e1e1e">0.0</text>
<text x="385.80" y="182.10" font-size="11.5" text-anchor="end" fill="#1e1e1e">−1.0</text>
<text x="385.80" y="215.00" font-size="11.5" text-anchor="end" fill="#1e1e1e">−2.0</text>
<text x="47.00" y="282.10" font-size="10.8" text-anchor="end" fill="#1e1e1e" font-style="italic">3.0</text>
<text x="47.20" y="314.90" font-size="11.5" text-anchor="end" fill="#1e1e1e">2.0</text>
<text x="47.20" y="345.90" font-size="11.5" text-anchor="end" fill="#1e1e1e">1.0</text>
<text x="47.20" y="376.90" font-size="11.5" text-anchor="end" fill="#1e1e1e">0.0</text>
<text x="47.20" y="407.90" font-size="11.5" text-anchor="end" fill="#1e1e1e">−1.0</text>
<text x="47.20" y="439.60" font-size="11.5" text-anchor="end" fill="#1e1e1e">−2.0</text>
<text x="386.10" y="280.00" font-size="10.8" text-anchor="end" fill="#1e1e1e" font-style="italic">3.0</text>
<text x="385.70" y="313.00" font-size="11.5" text-anchor="end" fill="#1e1e1e">2.0</text>
<text x="385.70" y="344.60" font-size="11.5" text-anchor="end" fill="#1e1e1e">1.0</text>
<text x="385.70" y="376.20" font-size="11.5" text-anchor="end" fill="#1e1e1e">0.0</text>
<text x="385.70" y="407.80" font-size="11.5" text-anchor="end" fill="#1e1e1e">−1.0</text>
<text x="385.70" y="439.60" font-size="11.5" text-anchor="end" fill="#1e1e1e">−2.0</text>
<text x="63.40" y="225.20" font-size="11.5" text-anchor="middle" fill="#1e1e1e">−20</text>
<text x="85.20" y="225.20" font-size="11.5" text-anchor="middle" fill="#1e1e1e">−10</text>
<text x="107.50" y="225.20" font-size="11.5" text-anchor="middle" fill="#1e1e1e">0</text>
<text x="127.80" y="225.20" font-size="11.5" text-anchor="middle" fill="#1e1e1e">10</text>
<text x="148.70" y="225.20" font-size="11.5" text-anchor="middle" fill="#1e1e1e">20</text>
<text x="169.00" y="225.20" font-size="11.5" text-anchor="middle" fill="#1e1e1e">30</text>
<text x="189.80" y="225.20" font-size="11.5" text-anchor="middle" fill="#1e1e1e">40</text>
<text x="210.00" y="225.20" font-size="11.5" text-anchor="middle" fill="#1e1e1e">50</text>
<text x="231.10" y="225.20" font-size="11.5" text-anchor="middle" fill="#1e1e1e">60</text>
<text x="252.30" y="225.20" font-size="11.5" text-anchor="middle" fill="#1e1e1e">70</text>
<text x="272.30" y="225.20" font-size="11.5" text-anchor="middle" fill="#1e1e1e">80</text>
<text x="294.00" y="225.20" font-size="11.5" text-anchor="middle" fill="#1e1e1e">90</text>
<text x="402.30" y="225.20" font-size="11.5" text-anchor="middle" fill="#1e1e1e">−20</text>
<text x="423.10" y="225.20" font-size="11.5" text-anchor="middle" fill="#1e1e1e">−10</text>
<text x="446.40" y="225.20" font-size="11.5" text-anchor="middle" fill="#1e1e1e">0</text>
<text x="465.70" y="225.20" font-size="11.5" text-anchor="middle" fill="#1e1e1e">10</text>
<text x="486.20" y="225.20" font-size="11.5" text-anchor="middle" fill="#1e1e1e">20</text>
<text x="507.10" y="225.20" font-size="11.5" text-anchor="middle" fill="#1e1e1e">30</text>
<text x="527.30" y="225.20" font-size="11.5" text-anchor="middle" fill="#1e1e1e">40</text>
<text x="547.40" y="225.20" font-size="11.5" text-anchor="middle" fill="#1e1e1e">50</text>
<text x="568.00" y="225.20" font-size="11.5" text-anchor="middle" fill="#1e1e1e">60</text>
<text x="588.70" y="225.20" font-size="11.5" text-anchor="middle" fill="#1e1e1e">70</text>
<text x="609.60" y="225.20" font-size="11.5" text-anchor="middle" fill="#1e1e1e">80</text>
<text x="629.80" y="225.20" font-size="11.5" text-anchor="middle" fill="#1e1e1e">90</text>
<text x="62.30" y="451.90" font-size="11.5" text-anchor="middle" fill="#1e1e1e">−20</text>
<text x="85.30" y="451.90" font-size="11.5" text-anchor="middle" fill="#1e1e1e">−10</text>
<text x="107.90" y="451.90" font-size="11.5" text-anchor="middle" fill="#1e1e1e">0</text>
<text x="127.80" y="451.90" font-size="11.5" text-anchor="middle" fill="#1e1e1e">10</text>
<text x="148.20" y="451.90" font-size="11.5" text-anchor="middle" fill="#1e1e1e">20</text>
<text x="169.00" y="451.90" font-size="11.5" text-anchor="middle" fill="#1e1e1e">30</text>
<text x="189.80" y="451.90" font-size="11.5" text-anchor="middle" fill="#1e1e1e">40</text>
<text x="210.00" y="451.90" font-size="11.5" text-anchor="middle" fill="#1e1e1e">50</text>
<text x="231.10" y="451.90" font-size="11.5" text-anchor="middle" fill="#1e1e1e">60</text>
<text x="251.70" y="451.90" font-size="11.5" text-anchor="middle" fill="#1e1e1e">70</text>
<text x="272.30" y="451.90" font-size="11.5" text-anchor="middle" fill="#1e1e1e">80</text>
<text x="292.50" y="451.90" font-size="11.5" text-anchor="middle" fill="#1e1e1e">90</text>
<text x="401.40" y="451.70" font-size="11.5" text-anchor="middle" fill="#1e1e1e">−20</text>
<text x="423.20" y="451.70" font-size="11.5" text-anchor="middle" fill="#1e1e1e">−10</text>
<text x="445.20" y="451.70" font-size="11.5" text-anchor="middle" fill="#1e1e1e">0</text>
<text x="465.50" y="451.70" font-size="11.5" text-anchor="middle" fill="#1e1e1e">10</text>
<text x="485.80" y="451.70" font-size="11.5" text-anchor="middle" fill="#1e1e1e">20</text>
<text x="506.50" y="451.70" font-size="11.5" text-anchor="middle" fill="#1e1e1e">30</text>
<text x="527.80" y="451.70" font-size="11.5" text-anchor="middle" fill="#1e1e1e">40</text>
<text x="547.40" y="451.70" font-size="11.5" text-anchor="middle" fill="#1e1e1e">50</text>
<text x="568.00" y="451.70" font-size="11.5" text-anchor="middle" fill="#1e1e1e">60</text>
<text x="588.70" y="451.70" font-size="11.5" text-anchor="middle" fill="#1e1e1e">70</text>
<text x="610.10" y="451.70" font-size="11.5" text-anchor="middle" fill="#1e1e1e">80</text>
<text x="630.30" y="451.70" font-size="11.5" text-anchor="middle" fill="#1e1e1e">90</text>
</svg></body></html>
